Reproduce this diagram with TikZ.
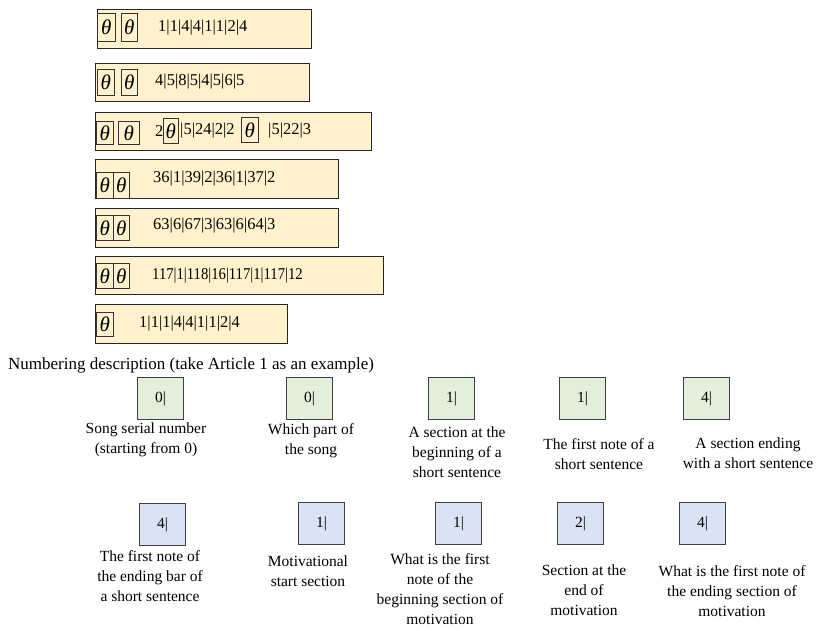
\documentclass[tikz,border=0pt]{standalone}
\usepackage{fontspec}
\setmainfont{Liberation Serif}
\definecolor{yel}{HTML}{FFF2CC}
\definecolor{grn}{HTML}{E2EFDA}
\definecolor{blu}{HTML}{DAE3F3}
\begin{document}
\begin{tikzpicture}[x=1pt,y=-1pt,
  rowbox/.style={draw=black!85, line width=1.4pt, fill=yel, inner sep=0pt, anchor=north west},
  thbox/.style={draw=black!80, line width=0.8pt, inner sep=0pt, anchor=north west,
    font=\fontsize{21}{21}\selectfont\itshape},
  seq/.style={inner sep=0pt, anchor=west, font=\fontsize{16.5}{16.5}\selectfont},
  gbox/.style={draw=black!75, line width=1pt, fill=grn, minimum width=46pt, minimum height=42pt,
    inner sep=0pt, anchor=north west, font=\fontsize{15.5}{15.5}\selectfont},
  bbox/.style={gbox, fill=blu},
  lab/.style={inner sep=0pt, anchor=north, align=center, font=\fontsize{15.5}{20}\selectfont}]
\useasboundingbox (0,0) rectangle (819,630);
% rows
\node[rowbox, minimum width=214pt, minimum height=39pt] (r1) at (97,9) {};
\node[rowbox, minimum width=214pt, minimum height=38pt] (r2) at (95,63) {};
\node[rowbox, minimum width=276pt, minimum height=38pt] (r3) at (95,112) {};
\node[rowbox, minimum width=243pt, minimum height=39pt] (r4) at (95,159) {};
\node[rowbox, minimum width=243pt, minimum height=39pt] (r5) at (95,208) {};
\node[rowbox, minimum width=288pt, minimum height=38pt] (r6) at (95,256) {};
\node[rowbox, minimum width=192pt, minimum height=39pt] (r7) at (95,304) {};
% theta boxes
\node[thbox, minimum width=18pt, minimum height=28pt] (t1a) at (97,13) {θ};
\node[thbox, minimum width=16pt, minimum height=28pt] (t1b) at (121,13) {θ};
\node[thbox, minimum width=17pt, minimum height=26pt] (t2a) at (97,69) {θ};
\node[thbox, minimum width=16pt, minimum height=26pt] (t2b) at (121,69) {θ};
\node[thbox, minimum width=17pt, minimum height=23pt] (t3a) at (96,121) {θ};
\node[thbox, minimum width=21pt, minimum height=23pt] (t3b) at (118,121) {θ};
\node[thbox, minimum width=15pt, minimum height=25pt] (t3c) at (163,118) {θ};
\node[thbox, minimum width=17pt, minimum height=25pt] (t3d) at (241,117) {θ};
\node[thbox, minimum width=17pt, minimum height=26pt] (t4a) at (96,172) {θ};
\node[thbox, minimum width=16pt, minimum height=26pt] (t4b) at (113,172) {θ};
\node[thbox, minimum width=17pt, minimum height=25pt] (t5a) at (96,215) {θ};
\node[thbox, minimum width=16pt, minimum height=25pt] (t5b) at (113,215) {θ};
\node[thbox, minimum width=17pt, minimum height=25pt] (t6a) at (96,263) {θ};
\node[thbox, minimum width=16pt, minimum height=25pt] (t6b) at (113,263) {θ};
\node[thbox, minimum width=17pt, minimum height=24pt] (t7a) at (96,312) {θ};
% sequences
\node[seq] (s1) at (158,28) {1|1|4|4|1|1|2|4};
\node[seq] (s2) at (155,82) {4|5|8|5|4|5|6|5};
\node[seq] (s3a) at (155,131) {2};
\node[seq] (s3b) at (180,131) {|5|24|2|2};
\node[seq] (s3c) at (268,131) {|5|22|3};
\node[seq] (s4) at (153,179) {36|1|39|2|36|1|37|2};
\node[seq] (s5) at (153,226) {63|6|67|3|63|6|64|3};
\node[seq] (s6) at (152,276) {\scalebox{0.89}[1]{117|1|118|16|117|1|117|12}};
\node[seq] (s7) at (139,324) {1|1|1|4|4|1|1|2|4};
% caption
\node[inner sep=0pt, anchor=base west, font=\fontsize{17}{17}\selectfont] (cap) at (8,369)
  {Numbering description (take Article 1 as an example)};
% green boxes
\node[gbox] (g1) at (137,377) {0|};
\node[gbox] (g2) at (286,377) {0|};
\node[gbox] (g3) at (428,377) {1|};
\node[gbox] (g4) at (559,377) {1|};
\node[gbox] (g5) at (683,377) {4|};
% blue boxes
\node[bbox] (b1) at (139,503) {4|};
\node[bbox] (b2) at (298,502) {1|};
\node[bbox] (b3) at (435,502) {1|};
\node[bbox] (b4) at (557,502) {2|};
\node[bbox] (b5) at (679,502) {4|};
% labels
\node[lab] (l1) at (146,423) {Song serial number\\(starting from 0)};
\node[lab] (l2) at (311,423) {Which part of\\the song};
\node[lab] (l3) at (457,427) {A section at the\\beginning of a\\short sentence};
\node[lab] (l4) at (599,438) {The first note of a\\short sentence};
\node[lab] (l5) at (748,438) {A section ending\\with a short sentence};
\node[lab] (l6) at (150,550) {The first note of\\the ending bar of\\a short sentence};
\node[lab] (l7) at (308,556) {Motivational\\start section};
\node[lab] (l8) at (440,553) {What is the first\\note of the\\beginning section of\\motivation};
\node[lab] (l9) at (584,565) {Section at the\\end of\\motivation};
\node[lab] (l10) at (732,565) {What is the first note of\\the ending section of\\motivation};
\end{tikzpicture}
\end{document}
